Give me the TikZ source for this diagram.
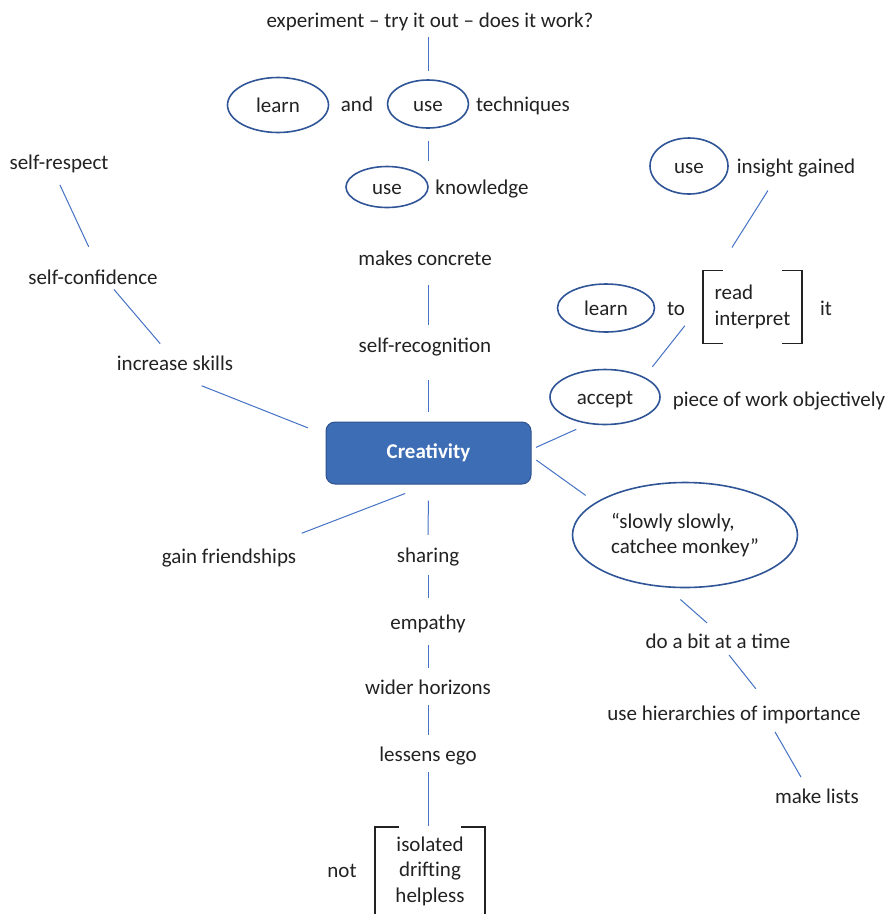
\documentclass[tikz,border=0pt]{standalone}
\usepackage{fontspec}
\setmainfont{Carlito}
\usetikzlibrary{shapes.geometric, calc}

\definecolor{linkblue}{HTML}{4472C4}
\definecolor{ovalblue}{HTML}{2F5597}
\definecolor{boxblue}{HTML}{3D6DB4}
\definecolor{boxedge}{HTML}{2F528F}
\definecolor{ink}{HTML}{222222}

\begin{document}
\begin{tikzpicture}[x=1pt, y=-1pt,
  font=\fontsize{21}{25.5}\selectfont, text=ink,
  word/.style={inner sep=0pt, text height=17pt, text depth=3pt},
  oval/.style={ellipse, draw=ovalblue, line width=1.6pt, inner sep=0pt},
  link/.style={draw=linkblue, line width=1pt},
  brak/.style={draw=ink, line width=1.5pt}]

  \useasboundingbox (0,0) rectangle (889,914);

  \node[word] (experiment) at (430,20) {experiment -- try it out -- does it work?};
  \node[oval, word, minimum width=101pt, minimum height=55pt] (learnA) at (278,105) {learn};
  \node[word] (andword) at (357,104) {and};
  \node[oval, word, minimum width=81pt, minimum height=48pt] (usetech) at (428,104) {use};
  \node[word] (techniques) at (523,104) {techniques};
  \node[oval, word, minimum width=82pt, minimum height=41pt] (useknow) at (387,187) {use};
  \node[word] (knowledge) at (482,187) {knowledge};
  \node[word] (concrete) at (425,258) {makes concrete};
  \node[word] (selfrec) at (425,345) {self-recognition};
  \node[rectangle, rounded corners=9pt, fill=boxblue, draw=boxedge, line width=1pt,
        minimum width=205pt, minimum height=62pt, text=white,
        font=\fontsize{21}{25.5}\selectfont\bfseries] (creat) at (428.5,453) {Creativity};

  \node[word] (selfresp) at (59,162) {self-respect};
  \node[word] (selfconf) at (93,277) {self-confidence};
  \node[word] (skills) at (175,363) {increase skills};
  \node[word] (gain) at (229,556) {gain friendships};

  \node[word] (sharing) at (428,555) {sharing};
  \node[word] (empathy) at (428,622) {empathy};
  \node[word] (wider) at (428,687) {wider horizons};
  \node[word] (lessens) at (428,754) {lessens ego};
  \node[inner sep=0pt, minimum width=110pt, minimum height=88pt, align=center] (notlist) at (430,871) {isolated\\drifting\\helpless};
  \node[word] (notword) at (342,870) {not};

  \node[oval, word, minimum width=78pt, minimum height=56pt] (useins) at (689,166) {use};
  \node[word] (insight) at (796,166) {insight gained};
  \node[oval, word, minimum width=97pt, minimum height=48pt] (learnB) at (606,308) {learn};
  \node[word] (toword) at (676,308) {to};
  \node[inner sep=0pt, minimum width=99pt, minimum height=73pt, align=left] (readbox) at (752.5,307) {read\\interpret};
  \node[word] (itword) at (826,308) {it};
  \node[oval, word, minimum width=110pt, minimum height=55pt] (accept) at (605,397) {accept};
  \node[word] (piece) at (779,399) {piece of work objectively};
  \node[oval, minimum width=225pt, minimum height=105pt, align=left] (slowly) at (685,535) {“slowly slowly,\\catchee monkey”};
  \node[word] (dobit) at (718,641) {do a bit at a time};
  \node[word] (hier) at (734,713) {use hierarchies of importance};
  \node[word] (lists) at (817,796) {make lists};

  \draw[brak] ([xshift=20pt]readbox.north west) -- (readbox.north west) -- (readbox.south west) -- ([xshift=20pt]readbox.south west);
  \draw[brak] ([xshift=-20pt]readbox.north east) -- (readbox.north east) -- (readbox.south east) -- ([xshift=-20pt]readbox.south east);
  \draw[brak] ([xshift=24pt]notlist.north west) -- (notlist.north west) -- (notlist.south west);
  \draw[brak] ([xshift=-24pt]notlist.north east) -- (notlist.north east) -- (notlist.south east);

  \draw[link, shorten <=7pt, shorten >=8pt] (experiment.south -| usetech.north) -- (usetech.north);
  \draw[link, shorten <=12pt, shorten >=5pt] (usetech.south) -- (usetech.south |- useknow.north);
  \draw[link, shorten <=17pt, shorten >=10pt] (concrete.south -| creat.north) -- (selfrec.north -| creat.north);
  \draw[link, shorten <=25pt, shorten >=10pt] (selfrec.south -| creat.north) -- (creat.north);
  \draw[link, shorten <=16pt, shorten >=10pt] (creat.south) -- (sharing.north);
  \draw[link, shorten <=10pt, shorten >=14pt] (sharing.south) -- (empathy.north);
  \draw[link, shorten <=13pt, shorten >=9pt] (empathy.south) -- (wider.north);
  \draw[link, shorten <=8pt, shorten >=9pt] (wider.south) -- (lessens.north);
  \draw[link, shorten <=8pt, shorten >=1pt] (lessens.south) -- (lessens.south |- notlist.north);

  \draw[link, shorten <=14pt, shorten >=22pt] ([xshift=-5pt]selfresp.south) -- ([xshift=5pt]selfconf.north);
  \draw[link, shorten <=3pt, shorten >=12pt] ([xshift=19pt]selfconf.south) -- ([xshift=-7pt]skills.north);
  \draw[link, shorten <=34pt, shorten >=19pt] ([xshift=-5pt]skills.south) -- (creat.170);
  \draw[link, shorten <=35pt, shorten >=25pt] ([xshift=40pt]gain.north) -- (creat.south);
  \draw[link, shorten <=5pt, shorten >=13pt] (creat.2) -- (accept.238);
  \draw[link, shorten <=6pt, shorten >=12pt] (creat.-2) -- (slowly.160);
  \draw[link, shorten <=18pt, shorten >=12pt] (slowly.251) -- ([xshift=-2pt]dobit.north);
  \draw[link, shorten <=5pt, shorten >=18pt] ([xshift=8pt]dobit.south) -- ([xshift=33pt]hier.north);
  \draw[link, shorten <=10pt, shorten >=10pt] ([xshift=36pt]hier.south) -- ([xshift=-11pt]lists.north);
  \draw[link, shorten <=17pt, shorten >=27pt] ([xshift=-19pt]insight.south) -- ([xshift=-35pt]readbox.north);
  \draw[link, shorten <=29pt, shorten >=13pt] ([yshift=4pt]readbox.west) -- (accept.27);
\end{tikzpicture}
\end{document}
